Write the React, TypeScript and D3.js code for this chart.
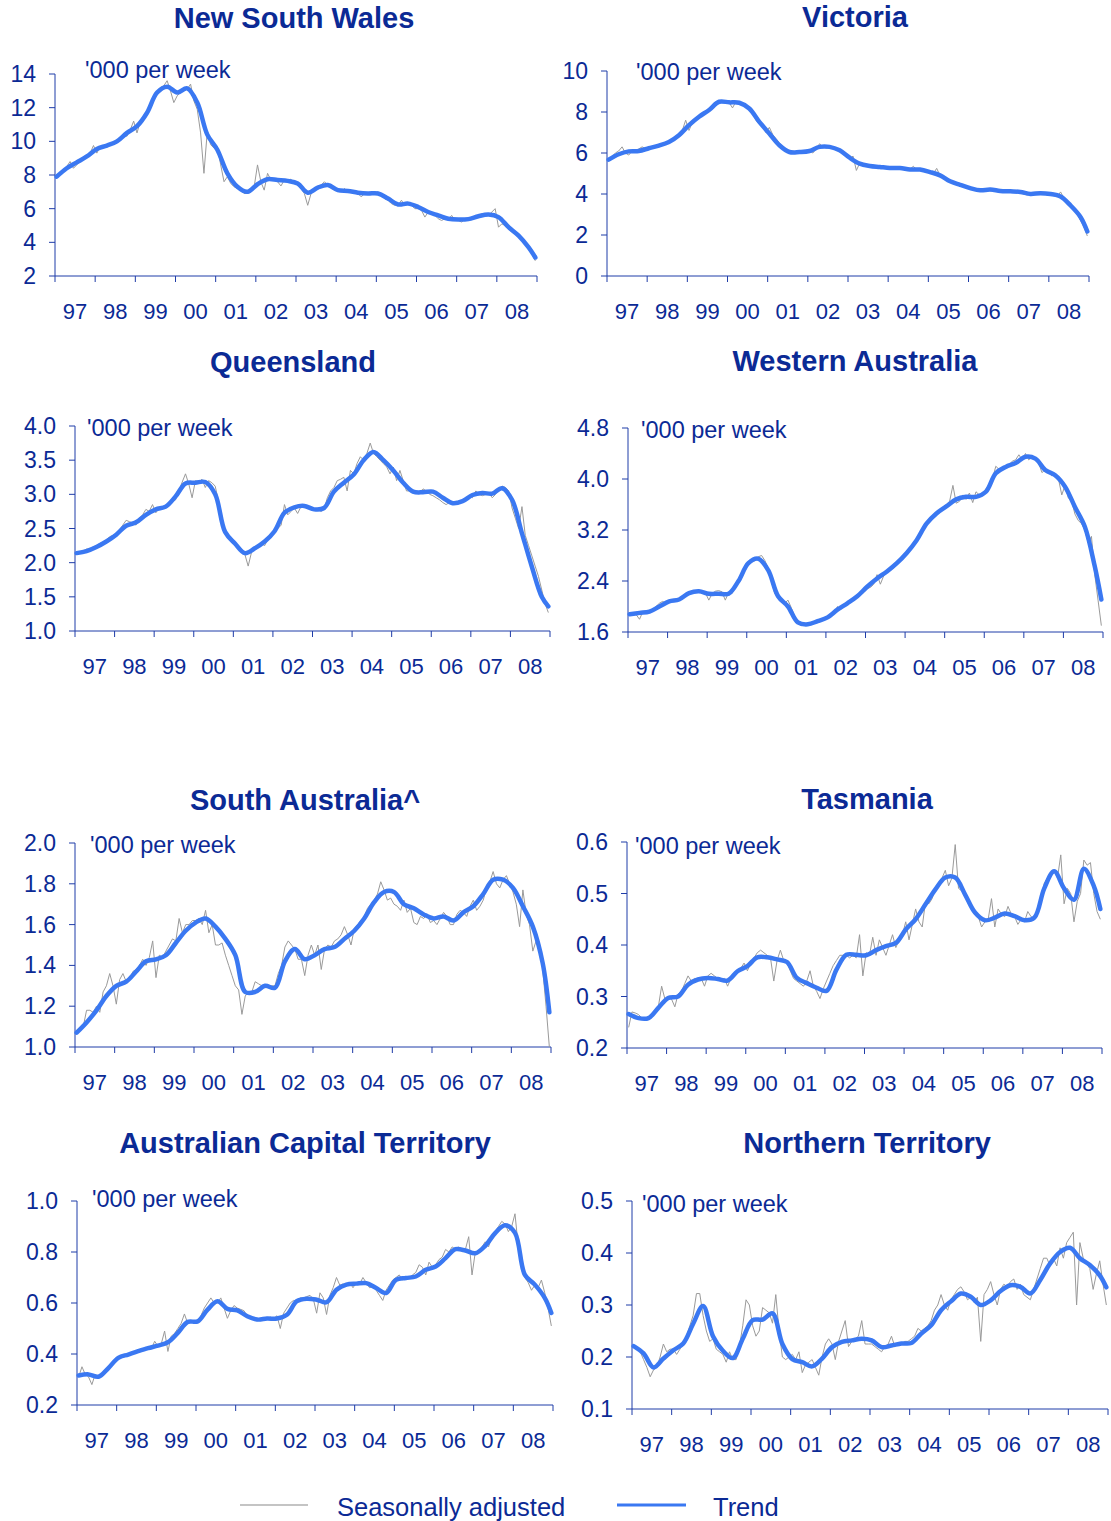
import React from 'react';
import * as d3 from 'd3';

const YEAR_LABELS = ['97', '98', '99', '00', '01', '02', '03', '04', '05', '06', '07', '08'];
const MONTH_COUNT = 144;

// Trend: quarterly values (Jan, Apr, Jul, Oct of each year 1997-2008) plus final month
const NSW_TREND = [
  7.9, 8.4, 8.75, 9.1,
  9.55, 9.75, 10.0, 10.5,
  10.9, 11.7, 12.9, 13.25,
  12.9, 13.15, 12.3, 10.4,
  9.5, 8.1, 7.3, 7.0,
  7.45, 7.75, 7.7, 7.65,
  7.5, 6.95, 7.25, 7.4,
  7.1, 7.05, 6.95, 6.9,
  6.9, 6.6, 6.25, 6.3,
  6.1, 5.8, 5.6, 5.4,
  5.35, 5.38, 5.55, 5.65,
  5.5, 4.9, 4.4, 3.7, 3.1,
];
const NSW_SA = [
  7.9, 8.1, 8.3, 8.5, 8.8, 8.4, 8.6, 8.8, 9.0, 9.1, 9.3, 9.75,
  9.3, 9.7, 9.75, 9.7, 9.8, 9.9, 10.0, 10.1, 10.4, 10.3, 10.7, 11.2,
  10.5, 11.2, 11.5, 11.7, 12.2, 12.6, 12.9, 13.2, 13.3, 13.6, 13.0, 12.3,
  12.7, 12.9, 13.0, 13.1, 13.4, 12.4, 11.9, 10.5, 8.1, 10.6, 9.8, 9.6,
  9.7, 8.6, 7.6, 7.9, 7.5, 7.3, 7.2, 7.1, 6.9, 6.9, 7.0, 7.3,
  8.6, 7.6, 7.1, 8.1, 7.7, 7.7, 7.6, 7.35, 7.7, 7.7, 7.75, 7.5,
  7.4, 7.2, 6.9, 6.2, 6.9, 7.2, 7.3, 7.4, 7.6, 7.4, 7.2, 7.1,
  7.1, 7.0, 7.2, 7.0, 7.1, 6.9, 6.9, 6.7, 6.9, 6.9, 6.85, 6.9,
  7.0, 6.8, 6.6, 6.5, 6.3, 6.2, 6.2, 6.5, 6.2, 6.4, 6.2, 6.0,
  6.0, 5.9, 5.5, 5.8, 5.7, 5.6, 5.4, 5.3, 5.4, 5.35, 5.6, 5.3,
  5.3, 5.2, 5.4, 5.3, 5.4, 5.5, 5.6, 5.7, 5.55, 5.6, 5.8, 6.0,
  4.9, 5.1, 5.0, 4.8, 4.6, 4.5, 4.4, 4.2, 3.9, 3.6, 3.3, 2.9,
];

const VIC_TREND = [
  5.68, 5.94, 6.08, 6.1,
  6.23, 6.36, 6.54, 6.87,
  7.36, 7.77, 8.1, 8.5,
  8.47, 8.45, 8.17, 7.52,
  6.95, 6.38, 6.05, 6.05,
  6.1, 6.3, 6.3, 6.13,
  5.77, 5.48, 5.37, 5.32,
  5.27, 5.27, 5.2, 5.19,
  5.07, 4.91, 4.62, 4.45,
  4.29, 4.18, 4.22, 4.15,
  4.13, 4.1, 4.0, 4.04,
  4.0, 3.88, 3.44, 2.87, 2.17,
];
const VIC_SA = [
  5.7, 5.8, 6.0, 6.1, 6.3, 6.0, 5.9, 6.1, 6.1, 6.2, 6.3, 6.2,
  6.2, 6.25, 6.3, 6.3, 6.4, 6.45, 6.5, 6.6, 6.7, 6.9, 7.1, 7.6,
  7.1, 7.5, 7.7, 7.8, 7.8, 8.0, 8.1, 8.3, 8.4, 8.5, 8.55, 8.5,
  8.45, 8.2, 8.5, 8.45, 8.45, 8.35, 8.2, 8.0, 7.6, 7.4, 7.3, 7.0,
  7.25, 6.9, 6.7, 6.5, 6.3, 6.1, 6.05, 6.1, 6.05, 6.0, 6.0, 6.05,
  6.1, 6.0, 6.2, 6.45, 6.3, 6.25, 6.3, 6.25, 6.2, 6.1, 6.05, 5.95,
  5.7, 5.85, 5.15, 5.5, 5.4, 5.35, 5.35, 5.3, 5.35, 5.3, 5.3, 5.25,
  5.25, 5.25, 5.3, 5.25, 5.2, 5.2, 5.2, 5.35, 5.2, 5.2, 5.15, 5.1,
  5.05, 5.0, 5.25, 4.9, 4.85, 4.7, 4.6, 4.55, 4.5, 4.5, 4.4, 4.3,
  4.3, 4.2, 4.25, 4.2, 4.2, 4.2, 4.15, 4.2, 4.15, 4.1, 4.1, 4.15,
  4.1, 4.1, 4.1, 4.05, 4.0, 3.95, 4.0, 4.0, 4.05, 4.0, 4.0, 3.95,
  4.0, 3.95, 3.85, 4.1, 3.8, 3.6, 3.4, 3.2, 3.0, 2.7, 2.4, 1.95,
];

const QLD_TREND = [
  2.14, 2.17, 2.23, 2.31,
  2.41, 2.54, 2.59, 2.7,
  2.78, 2.82, 2.97, 3.16,
  3.17, 3.18, 3.0, 2.45,
  2.28, 2.14, 2.21, 2.31,
  2.46, 2.73, 2.81, 2.83,
  2.78, 2.8, 3.04, 3.17,
  3.29, 3.5, 3.62, 3.5,
  3.35, 3.17, 3.04, 3.03,
  3.04, 2.95, 2.87, 2.9,
  2.99, 3.02, 3.01, 3.09,
  2.92, 2.43, 1.94, 1.5, 1.36,
];
const QLD_SA = [
  2.13, 2.14, 2.17, 2.2, 2.2, 2.23, 2.25, 2.28, 2.3, 2.33, 2.38, 2.4,
  2.42, 2.48, 2.55, 2.62, 2.6, 2.58, 2.55, 2.65, 2.7, 2.78, 2.75, 2.85,
  2.73, 2.8, 2.78, 2.82, 2.85, 2.9, 2.92, 3.05, 3.18, 3.3, 3.15, 2.95,
  3.2, 3.18, 3.22, 3.1, 3.2, 3.17, 3.12, 2.9, 2.6, 2.45, 2.35, 2.36,
  2.3, 2.25, 2.2, 2.12, 1.95, 2.15, 2.22, 2.25, 2.28, 2.25, 2.35, 2.4,
  2.45, 2.5, 2.55, 2.85, 2.7, 2.75, 2.8, 2.72, 2.82, 2.85, 2.83, 2.8,
  2.78, 2.8, 2.75, 2.78, 2.95, 3.05, 3.1, 3.2, 3.22, 3.25, 3.05, 3.35,
  3.3, 3.45, 3.55, 3.5, 3.6, 3.75, 3.6, 3.55, 3.5, 3.45, 3.4, 3.3,
  3.4, 3.2, 3.35, 3.2, 3.05, 3.05, 3.02, 3.03, 3.03, 3.08, 3.05, 3.0,
  2.98, 2.95, 2.92, 2.88, 2.85, 2.88, 2.87, 2.9, 2.88, 2.92, 2.95, 2.98,
  2.95, 3.05, 3.0, 2.98, 3.0, 3.02, 2.95, 3.0, 3.08, 3.12, 3.1, 3.05,
  2.8, 2.65, 2.5, 2.82, 2.4, 2.25, 2.1, 1.95, 1.8, 1.6, 1.4, 1.27,
];

const WA_TREND = [
  1.88, 1.9, 1.92, 2.0,
  2.08, 2.11, 2.21, 2.24,
  2.2, 2.2, 2.2, 2.4,
  2.68, 2.75, 2.57, 2.16,
  2.0, 1.75, 1.72, 1.77,
  1.83, 1.95, 2.05, 2.16,
  2.31, 2.44, 2.55, 2.68,
  2.84, 3.04, 3.3, 3.46,
  3.57, 3.68, 3.72, 3.72,
  3.8, 4.09, 4.19, 4.25,
  4.35, 4.32, 4.14, 4.06,
  3.88, 3.56, 3.25, 2.63, 2.11,
];
const WA_SA = [
  1.88, 1.9, 1.87, 1.8, 1.92, 1.93, 1.92, 1.95, 2.0, 2.05, 2.08, 2.05,
  2.1, 2.08, 2.12, 2.1, 2.12, 2.18, 2.2, 2.22, 2.25, 2.23, 2.22, 2.21,
  2.1, 2.2, 2.24, 2.25, 2.23, 2.1, 2.22, 2.2, 2.3, 2.4, 2.5, 2.6,
  2.65, 2.7, 2.72, 2.78, 2.8, 2.72, 2.6, 2.4, 2.2, 2.15, 2.1, 2.05,
  2.1, 1.98, 1.85, 1.75, 1.7, 1.72, 1.72, 1.74, 1.76, 1.78, 1.8, 1.82,
  1.83, 1.85, 1.9, 2.0, 1.95, 2.02, 2.05, 2.08, 2.1, 2.15, 2.18, 2.22,
  2.28, 2.3, 2.35, 2.5, 2.35, 2.48, 2.55, 2.58, 2.6, 2.65, 2.7, 2.75,
  2.82, 2.88, 2.95, 3.02, 3.1, 3.2, 3.3, 3.38, 3.42, 3.46, 3.5, 3.55,
  3.6, 3.65, 3.9, 3.62, 3.65, 3.75, 3.68, 3.78, 3.63, 3.8, 3.75, 3.75,
  3.85, 3.9, 4.0, 4.2, 4.15, 4.18, 4.2, 4.22, 4.28, 4.3, 4.38, 4.3,
  4.4, 4.3, 4.35, 4.3, 4.25, 4.1, 4.15, 4.1, 4.05, 4.08, 4.0, 3.75,
  3.9, 3.7, 3.65, 3.45, 3.35, 3.3, 3.2, 3.0, 3.1, 2.5, 2.1, 1.7,
];

const SA_TREND = [
  1.07, 1.12, 1.18, 1.25,
  1.3, 1.32, 1.37, 1.42,
  1.43, 1.45, 1.51, 1.57,
  1.61, 1.63, 1.59, 1.53,
  1.45, 1.27, 1.27, 1.3,
  1.29, 1.42, 1.48, 1.43,
  1.45, 1.48, 1.49, 1.53,
  1.57, 1.63, 1.71, 1.76,
  1.76, 1.7, 1.68, 1.65,
  1.63, 1.64, 1.62, 1.66,
  1.69, 1.75, 1.82, 1.82,
  1.78, 1.69, 1.59, 1.41, 1.17,
];
const SA_SA = [
  1.07, 1.08, 1.1, 1.18, 1.18, 1.17, 1.2, 1.17, 1.27, 1.3, 1.36, 1.3,
  1.21, 1.33, 1.36, 1.32, 1.33, 1.37, 1.38, 1.4, 1.43, 1.4, 1.44, 1.52,
  1.34, 1.45, 1.44, 1.47, 1.5, 1.53, 1.52, 1.63, 1.56, 1.6, 1.6, 1.62,
  1.62, 1.63, 1.6, 1.67, 1.56, 1.6, 1.5, 1.5, 1.51, 1.45, 1.4, 1.35,
  1.3, 1.28, 1.16, 1.25, 1.27, 1.27, 1.32, 1.31, 1.3, 1.29, 1.3, 1.3,
  1.3, 1.36, 1.4, 1.49, 1.52, 1.5, 1.48, 1.43, 1.43, 1.35, 1.45, 1.5,
  1.45, 1.5, 1.38, 1.48, 1.5, 1.49, 1.52, 1.53, 1.55, 1.59, 1.55, 1.5,
  1.58, 1.6, 1.62, 1.64, 1.68, 1.7, 1.72, 1.75, 1.81, 1.77, 1.72, 1.73,
  1.7, 1.69, 1.67, 1.72, 1.66, 1.68, 1.61, 1.6, 1.64, 1.63, 1.65, 1.61,
  1.62, 1.6, 1.63, 1.66, 1.64, 1.6, 1.6, 1.65, 1.67, 1.66, 1.64, 1.69,
  1.72, 1.67, 1.69, 1.72, 1.78, 1.81, 1.86, 1.8, 1.78, 1.82, 1.84, 1.8,
  1.76, 1.7, 1.59, 1.77, 1.65, 1.6, 1.47, 1.52, 1.51, 1.38, 1.2, 1.0,
];

const TAS_TREND = [
  0.266, 0.258, 0.258, 0.278,
  0.297, 0.3, 0.323, 0.333,
  0.336, 0.334, 0.331, 0.349,
  0.359, 0.376, 0.376, 0.372,
  0.367, 0.336, 0.326, 0.317,
  0.311, 0.352, 0.381, 0.381,
  0.38, 0.39, 0.398, 0.404,
  0.43, 0.45, 0.479, 0.508,
  0.531, 0.531, 0.498, 0.463,
  0.448, 0.453, 0.461, 0.456,
  0.448, 0.453, 0.51, 0.543,
  0.51, 0.488, 0.548, 0.515, 0.47,
];
const TAS_SA = [
  0.24, 0.27, 0.268, 0.265, 0.258, 0.255, 0.258, 0.262, 0.27, 0.28, 0.32, 0.295,
  0.3, 0.295, 0.28, 0.305, 0.31, 0.325, 0.34, 0.33, 0.335, 0.33, 0.335, 0.32,
  0.34, 0.345, 0.34, 0.335, 0.33, 0.335, 0.32, 0.335, 0.345, 0.35, 0.355, 0.365,
  0.35, 0.365, 0.375, 0.385, 0.39, 0.385, 0.38, 0.375, 0.33, 0.37, 0.39, 0.37,
  0.365, 0.35, 0.335, 0.33, 0.325, 0.32, 0.33, 0.35, 0.32, 0.31, 0.296, 0.315,
  0.33, 0.345, 0.36, 0.37, 0.38, 0.38, 0.38, 0.375, 0.38, 0.375, 0.42, 0.34,
  0.385, 0.38, 0.415, 0.38, 0.41, 0.395, 0.38, 0.4, 0.42, 0.395, 0.41, 0.42,
  0.445, 0.41, 0.44, 0.47, 0.445, 0.435, 0.485, 0.48, 0.49, 0.51, 0.52, 0.53,
  0.545, 0.515, 0.53, 0.595, 0.51, 0.505, 0.5, 0.48, 0.47, 0.465, 0.455, 0.435,
  0.445, 0.45, 0.49, 0.435, 0.47, 0.46, 0.455, 0.475, 0.46, 0.455, 0.44, 0.45,
  0.445, 0.465, 0.455, 0.45, 0.46, 0.49, 0.52, 0.53, 0.535, 0.545, 0.53, 0.575,
  0.48, 0.51, 0.5, 0.445, 0.485, 0.5, 0.565, 0.555, 0.56, 0.5, 0.465, 0.45,
];

const ACT_TREND = [
  0.316, 0.32, 0.311, 0.345,
  0.385, 0.398, 0.411, 0.423,
  0.433, 0.446, 0.483, 0.526,
  0.528, 0.574, 0.607, 0.577,
  0.571, 0.548, 0.535, 0.539,
  0.539, 0.554, 0.607, 0.617,
  0.613, 0.603, 0.652, 0.672,
  0.676, 0.678, 0.659, 0.639,
  0.691, 0.698, 0.704, 0.73,
  0.743, 0.776, 0.811, 0.806,
  0.795, 0.824, 0.874, 0.905,
  0.875, 0.71, 0.672, 0.62, 0.561,
];
const ACT_SA = [
  0.31, 0.35, 0.32, 0.31, 0.28, 0.32, 0.31, 0.32, 0.33, 0.34, 0.36, 0.38,
  0.39, 0.385, 0.39, 0.4, 0.4, 0.41, 0.41, 0.42, 0.42, 0.43, 0.42, 0.45,
  0.43, 0.44, 0.49, 0.41, 0.47, 0.48, 0.5, 0.52, 0.557, 0.52, 0.525, 0.52,
  0.53, 0.55, 0.58, 0.6, 0.62, 0.6, 0.6, 0.62, 0.58, 0.54, 0.57, 0.59,
  0.58, 0.575, 0.57, 0.55, 0.54, 0.535, 0.53, 0.54, 0.54, 0.54, 0.545, 0.54,
  0.55, 0.5, 0.56, 0.58, 0.6, 0.61, 0.605, 0.62, 0.62, 0.625, 0.63, 0.615,
  0.56, 0.64, 0.62, 0.555, 0.63, 0.66, 0.7, 0.67, 0.675, 0.665, 0.68, 0.66,
  0.68, 0.675, 0.7, 0.68, 0.66, 0.665, 0.65, 0.63, 0.61, 0.65, 0.67, 0.69,
  0.7, 0.71, 0.69, 0.7, 0.7, 0.71, 0.72, 0.75, 0.74, 0.71, 0.76, 0.74,
  0.75, 0.77, 0.78, 0.81, 0.8, 0.82, 0.81, 0.82, 0.8, 0.81, 0.86, 0.71,
  0.8, 0.8, 0.82, 0.84, 0.82, 0.86, 0.88, 0.9, 0.92, 0.91, 0.88, 0.9,
  0.95, 0.82, 0.73, 0.7, 0.68, 0.65, 0.67, 0.66, 0.69, 0.64, 0.58, 0.51,
];

const NT_TREND = [
  0.221, 0.207, 0.18, 0.197,
  0.213, 0.226, 0.264, 0.298,
  0.24, 0.212, 0.198, 0.235,
  0.271, 0.272, 0.284, 0.225,
  0.196, 0.19, 0.182, 0.197,
  0.219, 0.229, 0.232, 0.235,
  0.232, 0.219, 0.222, 0.226,
  0.227, 0.245, 0.261, 0.29,
  0.307, 0.322, 0.316, 0.3,
  0.309, 0.327, 0.338, 0.335,
  0.322, 0.348, 0.38, 0.402,
  0.41, 0.39, 0.377, 0.357, 0.334,
];
const NT_SA = [
  0.222, 0.22, 0.21, 0.195, 0.18, 0.162, 0.175, 0.18, 0.2, 0.225, 0.21, 0.215,
  0.215, 0.205, 0.215, 0.225, 0.24, 0.26, 0.28, 0.322, 0.322, 0.28, 0.25, 0.23,
  0.235, 0.215, 0.21, 0.205, 0.19, 0.21, 0.195, 0.195, 0.22, 0.26, 0.31, 0.3,
  0.26, 0.24, 0.25, 0.295, 0.29, 0.285, 0.265, 0.32, 0.25, 0.2, 0.195, 0.2,
  0.205, 0.195, 0.21, 0.17, 0.185, 0.19, 0.195, 0.18, 0.165, 0.2, 0.225, 0.235,
  0.225, 0.195, 0.23, 0.25, 0.27, 0.22, 0.23, 0.235, 0.24, 0.27, 0.225, 0.225,
  0.225, 0.22, 0.215, 0.21, 0.22, 0.225, 0.24, 0.22, 0.225, 0.225, 0.23, 0.23,
  0.235, 0.24, 0.255, 0.25, 0.255, 0.26, 0.27, 0.29, 0.3, 0.32, 0.3, 0.29,
  0.31, 0.32, 0.33, 0.335, 0.325, 0.31, 0.315, 0.305, 0.315, 0.23, 0.32, 0.33,
  0.345, 0.32, 0.3, 0.33, 0.34, 0.335, 0.345, 0.35, 0.33, 0.34, 0.32, 0.315,
  0.31, 0.33, 0.35, 0.37, 0.39, 0.39, 0.375, 0.39, 0.375, 0.41, 0.39, 0.42,
  0.43, 0.44, 0.3, 0.42, 0.39, 0.38, 0.37, 0.33, 0.36, 0.385, 0.34, 0.3,
];

const NSW_TICKS = [2, 4, 6, 8, 10, 12, 14];
const VIC_TICKS = [0, 2, 4, 6, 8, 10];
const QLD_TICKS = [1.0, 1.5, 2.0, 2.5, 3.0, 3.5, 4.0];
const WA_TICKS = [1.6, 2.4, 3.2, 4.0, 4.8];
const SA_TICKS = [1.0, 1.2, 1.4, 1.6, 1.8, 2.0];
const TAS_TICKS = [0.2, 0.3, 0.4, 0.5, 0.6];
const ACT_TICKS = [0.2, 0.4, 0.6, 0.8, 1.0];
const NT_TICKS = [0.1, 0.2, 0.3, 0.4, 0.5];

const UNIT_LABEL = "'000 per week";
const LEGEND_SA = 'Seasonally adjusted';
const LEGEND_TREND = 'Trend';

// Layout (pixel geometry of each panel)
const PANELS = [
  { title: 'New South Wales', trend: NSW_TREND, sa: NSW_SA, ticks: NSW_TICKS, dec: 0, x0: 55, x1: 537, yTop: 74, yBot: 276, tx: 294, ty: 28, ux: 85, uy: 78 },
  { title: 'Victoria', trend: VIC_TREND, sa: VIC_SA, ticks: VIC_TICKS, dec: 0, x0: 607, x1: 1089, yTop: 71, yBot: 276, tx: 855, ty: 27, ux: 636, uy: 80 },
  { title: 'Queensland', trend: QLD_TREND, sa: QLD_SA, ticks: QLD_TICKS, dec: 1, x0: 75, x1: 550, yTop: 426, yBot: 631, tx: 293, ty: 372, ux: 87, uy: 436 },
  { title: 'Western Australia', trend: WA_TREND, sa: WA_SA, ticks: WA_TICKS, dec: 1, x0: 628, x1: 1103, yTop: 428, yBot: 632, tx: 855, ty: 371, ux: 641, uy: 438 },
  { title: 'South Australia^', trend: SA_TREND, sa: SA_SA, ticks: SA_TICKS, dec: 1, x0: 75, x1: 551, yTop: 843, yBot: 1047, tx: 305, ty: 810, ux: 90, uy: 853 },
  { title: 'Tasmania', trend: TAS_TREND, sa: TAS_SA, ticks: TAS_TICKS, dec: 1, x0: 627, x1: 1102, yTop: 842, yBot: 1048, tx: 867, ty: 809, ux: 635, uy: 854 },
  { title: 'Australian Capital Territory', trend: ACT_TREND, sa: ACT_SA, ticks: ACT_TICKS, dec: 1, x0: 77, x1: 553, yTop: 1201, yBot: 1405, tx: 305, ty: 1153, ux: 92, uy: 1207 },
  { title: 'Northern Territory', trend: NT_TREND, sa: NT_SA, ticks: NT_TICKS, dec: 1, x0: 632, x1: 1108, yTop: 1201, yBot: 1409, tx: 867, ty: 1153, ux: 642, uy: 1212 },
];

const TEXT_COLOR = '#0b2a95';
const AXIS_COLOR = '#1f3ca8';
const TREND_COLOR = '#3a78f2';
const SA_COLOR = '#9a9a9a';
const FONT = "'Liberation Sans', Arial, Helvetica, sans-serif";

function Panel({ p }: { p: any }) {
  const x = d3.scaleLinear().domain([0, MONTH_COUNT]).range([p.x0, p.x1]);
  const y = d3
    .scaleLinear()
    .domain([p.ticks[0], p.ticks[p.ticks.length - 1]])
    .range([p.yBot, p.yTop]);
  const saLine = d3
    .line<number>()
    .x((_, i) => x(i + 0.5))
    .y((d) => y(d));
  const trendMonth = (i: number) => Math.min(i * 3, MONTH_COUNT - 1);
  const trendLine = d3
    .line<number>()
    .x((_, i) => x(trendMonth(i) + 0.5))
    .y((d) => y(d))
    .curve(d3.curveCatmullRom.alpha(0.5));
  const fmt = d3.format(p.dec ? '.1f' : 'd');
  const yearTicks = d3.range(0, YEAR_LABELS.length + 1).map((k) => k * 12);

  return (
    <g>
      <text x={p.tx} y={p.ty} textAnchor="middle" fontSize={29} fontWeight="bold" fill={TEXT_COLOR}>
        {p.title}
      </text>
      <text x={p.ux} y={p.uy} fontSize={23.5} fill={TEXT_COLOR}>
        {UNIT_LABEL}
      </text>
      {/* y axis */}
      <line x1={p.x0} x2={p.x0} y1={p.yTop} y2={p.yBot} stroke={AXIS_COLOR} strokeWidth={1} />
      {p.ticks.map((t: number) => (
        <g key={t}>
          <line x1={p.x0 - 6} x2={p.x0} y1={y(t)} y2={y(t)} stroke={AXIS_COLOR} strokeWidth={1} />
          <text x={p.x0 - 19} y={y(t) + 8} textAnchor="end" fontSize={23} fill={TEXT_COLOR}>
            {fmt(t)}
          </text>
        </g>
      ))}
      {/* x axis */}
      <line x1={p.x0} x2={p.x1} y1={p.yBot} y2={p.yBot} stroke={AXIS_COLOR} strokeWidth={1} />
      {yearTicks.map((m) => (
        <line key={m} x1={x(m)} x2={x(m)} y1={p.yBot} y2={p.yBot + 6} stroke={AXIS_COLOR} strokeWidth={1} />
      ))}
      {YEAR_LABELS.map((lab, k) => (
        <text key={lab} x={x(k * 12 + 6)} y={p.yBot + 43} textAnchor="middle" fontSize={22} fill={TEXT_COLOR}>
          {lab}
        </text>
      ))}
      <path d={saLine(p.sa) || ''} fill="none" stroke={SA_COLOR} strokeWidth={1} />
      <path d={trendLine(p.trend) || ''} fill="none" stroke={TREND_COLOR} strokeWidth={4.5} strokeLinejoin="round" strokeLinecap="round" />
    </g>
  );
}

export default function App() {
  return (
    <svg
      width={1111}
      height={1521}
      viewBox="0 0 1111 1521"
      style={{ position: 'absolute', left: 0, top: 0, background: '#fff' }}
      fontFamily={FONT}
    >
      <rect x={0} y={0} width={1111} height={1521} fill="#fff" />
      {PANELS.map((p) => (
        <Panel key={p.title} p={p} />
      ))}
      <g>
        <line x1={240} x2={308} y1={1505} y2={1505} stroke="#b0b0b0" strokeWidth={1.5} />
        <text x={337} y={1516} fontSize={25.5} fill={TEXT_COLOR}>
          {LEGEND_SA}
        </text>
        <line x1={617} x2={686} y1={1505} y2={1505} stroke={TREND_COLOR} strokeWidth={3} />
        <text x={713} y={1516} fontSize={25.5} fill={TEXT_COLOR}>
          {LEGEND_TREND}
        </text>
      </g>
    </svg>
  );
}
